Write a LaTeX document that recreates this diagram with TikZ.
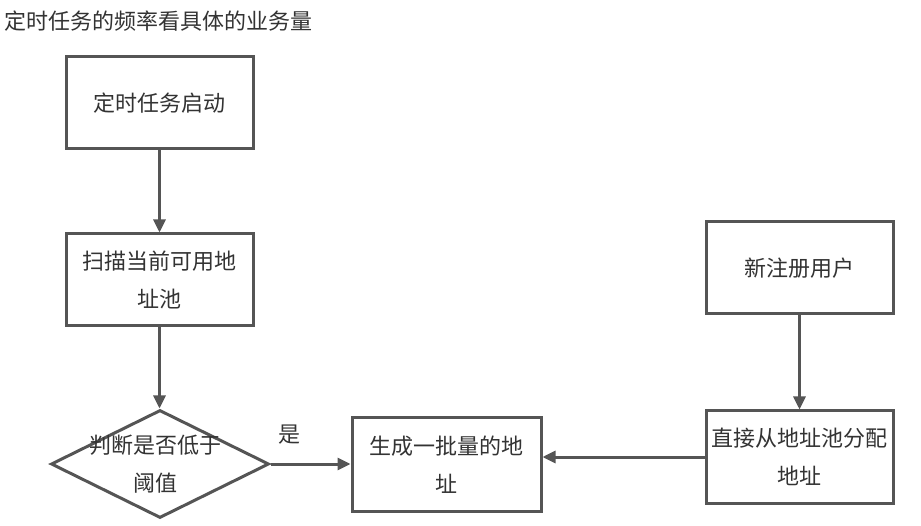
\documentclass[tikz,border=0pt]{standalone}
\usepackage{fontspec}
\setmainfont{Noto Sans CJK SC}
\usetikzlibrary{shapes.geometric,arrows.meta}
\definecolor{linec}{HTML}{555555}
\definecolor{textc}{HTML}{333333}
\begin{document}
\begin{tikzpicture}[x=1pt,y=-1pt,
  every node/.style={text=textc,font=\fontsize{22}{38}\selectfont},
  box/.style={draw=linec,line width=3pt,minimum width=187pt,minimum height=92pt,inner sep=0pt,align=center},
  arr/.style={draw=linec,line width=3pt,-{Triangle[length=13pt,width=12pt]}}]
\useasboundingbox[fill=white] (0,0) rectangle (921,526);
\node[anchor=west,inner sep=0pt] (title) at (4,21) {定时任务的频率看具体的业务量};
\node[box] (start) at (159.5,103) {定时任务启动};
\node[box] (scan) at (159.5,280) {扫描当前可用地\\址池};
\node[diamond,draw=linec,line width=3pt,minimum width=218pt,minimum height=108pt,inner sep=0pt] (judge) at (160,464) {};
\node[align=center] (judget) at (155,464) {判断是否低于\\阈值};
\node[box,minimum width=189pt,minimum height=93pt] (gen) at (446.5,464.5) {生成一批量的地\\址};
\node[box] (reg) at (799.5,268) {新注册用户};
\node[box] (alloc) at (799.5,457) {直接从地址池分配\\地址};
\node (yes) at (289,435) {是};
\draw[arr] (start) -- (scan);
\draw[arr] (scan.south) -- (scan.south |- judge.north);
\draw[arr] (judge.east) -- (judge.east -| gen.west);
\draw[arr] (reg) -- (alloc);
\draw[arr] (alloc.west) -- (alloc.west -| gen.east);
\end{tikzpicture}
\end{document}
